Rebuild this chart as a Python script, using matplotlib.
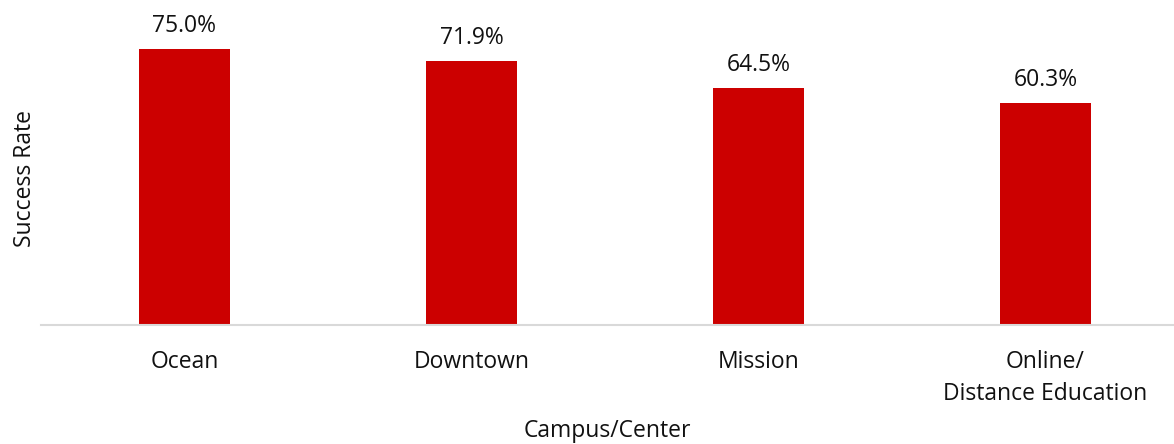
# success rate by campus/center

import matplotlib.pyplot as plt

plt.rcParams['font.family'] = ['Open Sans', 'DejaVu Sans']

campuses = ['Ocean', 'Downtown', 'Mission', 'Online/\nDistance Education']
success_rate = [75.0, 71.9, 64.5, 60.3]

fig = plt.figure(figsize=(11.74, 4.44), dpi=100)
ax = fig.add_axes([41 / 1174, 119 / 444, 1133 / 1174, 294 / 444])

x = range(len(campuses))
bars = ax.bar(x, success_rate, width=0.317, color='#cc0000')

# value labels above the bars
for b, v in zip(bars, success_rate):
    ax.annotate(f'{v:.1f}%', (b.get_x() + b.get_width() / 2, v),
                xytext=(0, 8), textcoords='offset points',
                ha='center', va='bottom', fontsize=16.5, color='#111111')

ax.set_xlim(-0.5, 3.448)
ax.set_ylim(0, 80)
ax.set_xticks(list(x))
ax.set_xticklabels(campuses, fontsize=16.5, linespacing=1.45, va='top',
                   color='#111111')
ax.tick_params(axis='x', length=0, pad=18)
ax.set_yticks([])

for side in ['top', 'right', 'left']:
    ax.spines[side].set_visible(False)
ax.spines['bottom'].set_color('#d9d9d9')
ax.spines['bottom'].set_linewidth(1.5)

ax.set_xlabel('Campus/Center', fontsize=16.5, labelpad=9, color='#111111')
ax.set_ylabel('Success Rate', fontsize=16.5, labelpad=3, color='#111111')

plt.savefig('out.png', dpi=100)
